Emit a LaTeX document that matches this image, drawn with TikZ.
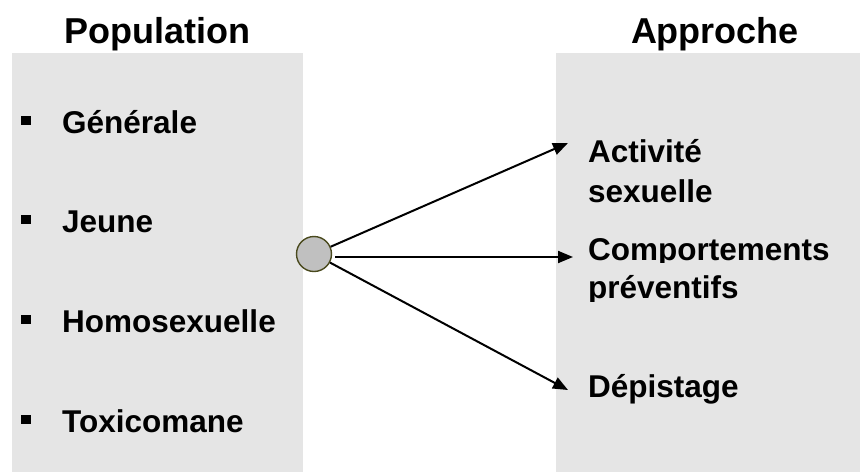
\documentclass[tikz,border=0pt]{standalone}
\usepackage{fontspec}
\setmainfont{Liberation Sans}
\usetikzlibrary{arrows.meta}
\definecolor{boxgray}{HTML}{E5E5E5}
\definecolor{dotgray}{HTML}{C0C0C0}
\definecolor{dotedge}{HTML}{4A4A1E}
\tikzset{
  panel/.style={fill=boxgray, draw=none},
  header/.style={font=\fontsize{36}{40}\selectfont\bfseries, inner sep=0pt, anchor=base},
  item/.style={font=\fontsize{31.5}{38}\selectfont\bfseries, inner sep=0pt, anchor=base west},
  bulletsq/.style={fill=black, draw=none, minimum width=10pt, minimum height=9pt, inner sep=0pt},
  hub/.style={circle, fill=dotgray, draw=dotedge, line width=1.4pt, minimum size=35pt, inner sep=0pt},
  link/.style={line width=2pt, -{Triangle[length=15pt,width=12pt]}}
}
\begin{document}
\begin{tikzpicture}[x=1pt,y=-1pt]
\useasboundingbox (0,0) rectangle (860,472);
\fill[white] (0,0) rectangle (860,472);
% panels
\fill[panel] (12,53) rectangle (303,472);
\fill[panel] (556,53) rectangle (860,472);
% headers
\node[header] (hpop) at (157,43) {Population};
\node[header] (happ) at (715,43) {Approche};
% left items
\node[bulletsq] (b1) at (26,120) {};
\node[item] (gen) at (62,133) {Générale};
\node[bulletsq] (b2) at (26,219) {};
\node[item] (jeu) at (62,232) {Jeune};
\node[bulletsq] (b3) at (26,319) {};
\node[item] (hom) at (62,332) {Homosexuelle};
\node[bulletsq] (b4) at (26,419) {};
\node[item] (tox) at (62,432) {Toxicomane};
% right items
\node[item] (act) at (588,162) {Activité};
\node[item] (sex) at (588,202) {sexuelle};
\begin{scope}
  \clip (560,200) rectangle (860,262);
  \node[item] (com) at (588,260) {Comportements};
\end{scope}
\begin{scope}
  \clip (560,264) rectangle (860,301);
  \node[item] (pre) at (588,298) {préventifs};
\end{scope}
\node[item] (dep) at (588,397) {Dépistage};
% hub and arrows
\node[hub] (c) at (314,254) {};
\coordinate (t1) at (568,143);
\coordinate (t2) at (573,257);
\coordinate (t3) at (568,390);
\coordinate (s2) at (335,257);
\draw[link] (c) -- (t1);
\draw[link] (s2) -- (t2);
\draw[link] (c) -- (t3);
\end{tikzpicture}
\end{document}
